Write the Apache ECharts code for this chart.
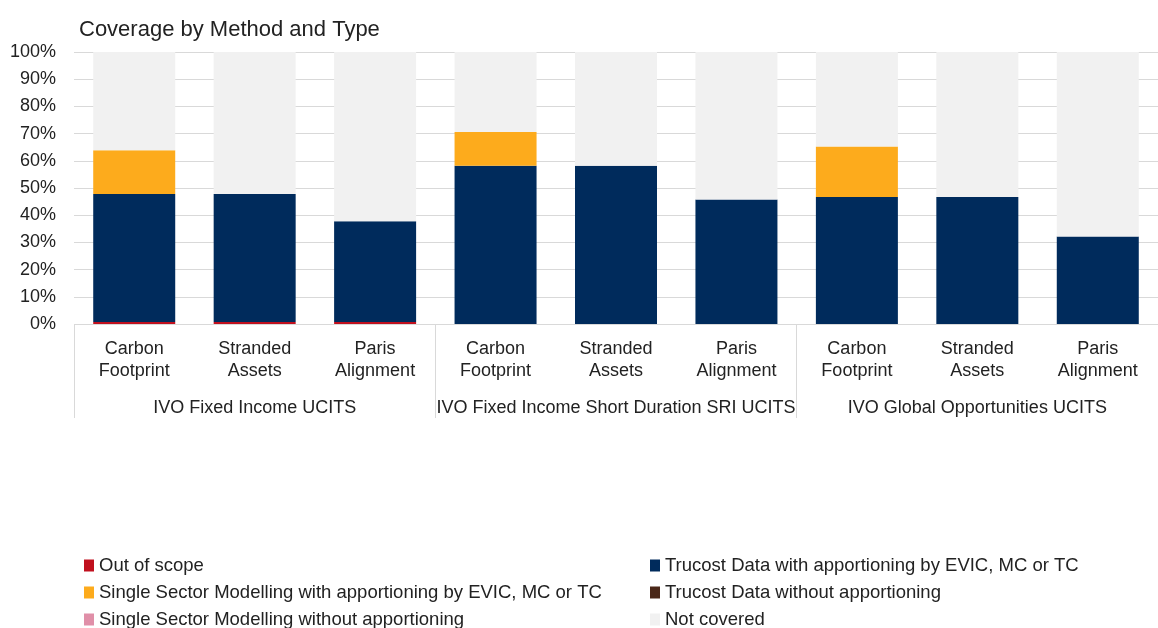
<!DOCTYPE html>
<html>
<head>
<meta charset="utf-8">
<script src="https://cdn.jsdelivr.net/npm/echarts@6/dist/echarts.min.js"></script>
<style>
  html, body { margin: 0; padding: 0; background: #fff; }
  #chart { width: 1158px; height: 628px; }
</style>
</head>
<body>
<div id="chart"></div>
<script>
  // categories
  var methods = ['Carbon\nFootprint', 'Stranded\nAssets', 'Paris\nAlignment',
                 'Carbon\nFootprint', 'Stranded\nAssets', 'Paris\nAlignment',
                 'Carbon\nFootprint', 'Stranded\nAssets', 'Paris\nAlignment']
  var funds = ['IVO Fixed Income UCITS', 'IVO Fixed Income Short Duration SRI UCITS', 'IVO Global Opportunities UCITS']
  var yTicks = [0, 10, 20, 30, 40, 50, 60, 70, 80, 90, 100]

  // series values (%)
  var outOfScope   = [0.7, 0.7, 0.7, 0, 0, 0, 0, 0, 0]
  var trucostApp   = [47.1, 47.1, 37.1, 58.2, 58.2, 45.8, 46.7, 46.7, 32.2]
  var ssmApp       = [16.1, 0, 0, 12.4, 0, 0, 18.6, 0, 0]
  var trucostNoApp = [0, 0, 0, 0, 0, 0, 0, 0, 0]
  var ssmNoApp     = [0, 0, 0, 0, 0, 0, 0, 0, 0]
  var notCovered   = [36.1, 52.2, 62.2, 29.4, 41.8, 54.2, 34.7, 53.3, 67.8]

  var FONT = 'Liberation Sans'
  var TXT = '#222'
  var chart = echarts.init(document.getElementById('chart'))

  function bar(name, data, color) {
    return {
      name: name,
      type: 'bar',
      stack: 'total',
      barWidth: 82,
      data: data,
      itemStyle: { color: color },
      emphasis: { disabled: true }
    }
  }

  function legendCol(left, names) {
    return {
      orient: 'vertical',
      left: left,
      top: 556,
      height: 120,
      padding: 0,
      itemWidth: 10,
      itemHeight: 12,
      itemGap: 8,
      icon: 'rect',
      textStyle: { fontSize: 18.5, color: TXT, lineHeight: 19, fontFamily: FONT },
      data: names
    }
  }

  chart.setOption({
    animation: false,
    textStyle: { fontFamily: FONT },
    title: {
      text: 'Coverage by Method and Type',
      left: 74,
      top: 14,
      textStyle: { fontSize: 22, fontWeight: 'normal', color: TXT, fontFamily: FONT }
    },
    grid: { left: 74, top: 52, height: 272, right: -12, containLabel: false },
    legend: [
      legendCol(84, ['Out of scope',
                     'Single Sector Modelling with apportioning by EVIC, MC or TC',
                     'Single Sector Modelling without apportioning']),
      legendCol(650, ['Trucost Data with apportioning by EVIC, MC or TC',
                      'Trucost Data without apportioning',
                      'Not covered'])
    ],
    xAxis: [
      {
        type: 'category',
        data: methods,
        position: 'bottom',
        axisLine: { show: false },
        axisTick: { show: false },
        axisLabel: { interval: 0, margin: 14, fontSize: 18, lineHeight: 22, color: TXT, fontFamily: FONT }
      },
      {
        type: 'category',
        data: funds,
        position: 'bottom',
        axisLine: { show: false },
        axisTick: { show: true, length: 94, interval: 0, lineStyle: { color: '#d9d9d9', width: 1 } },
        axisLabel: { interval: 0, margin: 75, fontSize: 18, color: TXT, fontFamily: FONT },
        splitLine: { show: false }
      }
    ],
    yAxis: {
      type: 'value',
      min: 0,
      max: 100,
      interval: 10,
      axisLine: { show: false },
      axisTick: { show: false },
      splitLine: { lineStyle: { color: '#d9d9d9', width: 1 } },
      axisLabel: {
        margin: 18,
        fontSize: 18,
        color: TXT,
        fontFamily: FONT,
        formatter: function (v) { return yTicks.indexOf(v) >= 0 ? v + '%' : '' }
      }
    },
    series: [
      bar('Out of scope', outOfScope, '#c0101e'),
      bar('Trucost Data with apportioning by EVIC, MC or TC', trucostApp, '#002b5c'),
      bar('Single Sector Modelling with apportioning by EVIC, MC or TC', ssmApp, '#fdab1c'),
      bar('Trucost Data without apportioning', trucostNoApp, '#4a2718'),
      bar('Single Sector Modelling without apportioning', ssmNoApp, '#e08fa8'),
      bar('Not covered', notCovered, '#f1f1f1')
    ]
  })
</script>
</body>
</html>
